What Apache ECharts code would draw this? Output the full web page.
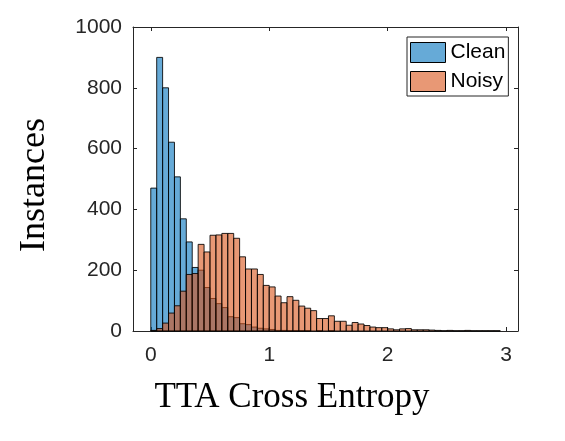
<!DOCTYPE html>
<html>
<head>
<meta charset="utf-8">
<script src="https://cdn.jsdelivr.net/npm/echarts@6/dist/echarts.min.js"></script>
<style>html,body{margin:0;padding:0;background:#fff;}#c{width:565px;height:441px;}</style>
</head>
<body>
<div id="c"></div>
<script>
// ---- data ----
const binWidth = 0.05;           // histogram bin width, bins start at 0
const seriesNames = ['Clean', 'Noisy'];
const cleanCounts = [470, 900, 800, 621, 507, 369, 293, 209, 200, 143,
                     107, 90, 77, 47, 44, 24, 21, 13, 9, 7,
                     5, 2, 2, 1, 1, 1, 1, 0, 1, 0, 1];
const noisyCounts = [2, 8, 26, 59, 83, 131, 186, 189, 285, 260,
                     315, 316, 321, 321, 305, 244, 204, 204, 186, 150,
                     145, 115, 93, 113, 101, 82, 75, 67, 41, 41,
                     50, 32, 32, 19, 28, 23, 18, 13, 11, 11,
                     7, 4, 7, 8, 4, 4, 4, 3, 2, 1,
                     2, 1, 1, 2, 1, 1, 1, 1, 1];
const xTicks = [0, 1, 2, 3];
const yTicks = [0, 200, 400, 600, 800, 1000];
const xTitle = 'TTA Cross Entropy';
const yTitle = 'Instances';

// ---- chart ----
function toBins(counts) {
  return counts.map((c, i) => [i * binWidth, (i + 1) * binWidth, c]);
}
function histRender(fill) {
  return function (params, api) {
    const v = api.value(2);
    if (!v) return null;
    const p0 = api.coord([api.value(0), v]);
    const p1 = api.coord([api.value(1), 0]);
    return {
      type: 'rect',
      shape: { x: p0[0], y: p0[1], width: p1[0] - p0[0], height: p1[1] - p0[1] },
      style: { fill: fill, stroke: 'rgba(0,0,0,0.85)', lineWidth: 1 }
    };
  };
}
const sans = 'Arial, "Liberation Sans", sans-serif';
const serif = '"Times New Roman", "Liberation Serif", serif';
const axisCol = '#262626';

const chart = echarts.init(document.getElementById('c'), null, { renderer: 'canvas' });
const baseX = {
  type: 'value', min: -0.15, max: 3.1, gridIndex: 0,
  splitLine: { show: false },
  axisLine: { show: true, onZero: false, lineStyle: { color: axisCol, width: 1 } },
  axisTick: { show: true, inside: true, length: 4, customValues: xTicks, lineStyle: { color: axisCol } },
};
const baseY = {
  type: 'value', min: 0, max: 1000, interval: 200, gridIndex: 0,
  splitLine: { show: false },
  axisLine: { show: true, onZero: false, lineStyle: { color: axisCol, width: 1 } },
  axisTick: { show: true, inside: true, length: 4, lineStyle: { color: axisCol } },
};
chart.setOption({
  animation: false,
  backgroundColor: '#fff',
  grid: { left: 133, top: 27, width: 385, height: 304 },
  xAxis: [
    Object.assign({}, baseX, { position: 'bottom',
      axisLabel: { show: true, customValues: xTicks, fontSize: 21, fontFamily: sans, color: axisCol, margin: 14 } }),
    Object.assign({}, baseX, { position: 'top', axisLabel: { show: false } })
  ],
  yAxis: [
    Object.assign({}, baseY, { position: 'left',
      axisLabel: { show: true, fontSize: 21, fontFamily: sans, color: axisCol, margin: 11,
        formatter: v => (yTicks.indexOf(v) >= 0 ? String(v) : '') } }),
    Object.assign({}, baseY, { position: 'right', axisLabel: { show: false } })
  ],
  legend: {
    orient: 'vertical', left: 407, top: 37,
    itemWidth: 35, itemHeight: 20, itemGap: 8,
    padding: [5, 3, 4, 3],
    borderColor: axisCol, borderWidth: 1, backgroundColor: '#fff',
    icon: 'rect',
    textStyle: { fontSize: 21, fontFamily: sans, color: '#000' },
    data: [
      { name: seriesNames[0], itemStyle: { color: '#66AAD7', borderColor: '#000', borderWidth: 1 } },
      { name: seriesNames[1], itemStyle: { color: '#E89875', borderColor: '#000', borderWidth: 1 } }
    ]
  },
  series: [
    { name: seriesNames[0], type: 'custom', xAxisIndex: 0, yAxisIndex: 0,
      renderItem: histRender('rgba(0,114,189,0.6)'), data: toBins(cleanCounts),
      itemStyle: { color: '#66AAD7' }, encode: { x: [0, 1], y: 2 } },
    { name: seriesNames[1], type: 'custom', xAxisIndex: 0, yAxisIndex: 0,
      renderItem: histRender('rgba(217,83,25,0.6)'), data: toBins(noisyCounts),
      itemStyle: { color: '#E89875' }, encode: { x: [0, 1], y: 2 } }
  ],
  graphic: [
    { type: 'text', x: 292, y: 398, z: 10,
      style: { text: xTitle, font: '35px ' + serif, fill: '#000', align: 'center', verticalAlign: 'middle' } },
    { type: 'text', x: 35, y: 185, rotation: Math.PI / 2, z: 10,
      style: { text: yTitle, font: '36px ' + serif, fill: '#000', align: 'center', verticalAlign: 'middle' } }
  ]
});
</script>
</body>
</html>
